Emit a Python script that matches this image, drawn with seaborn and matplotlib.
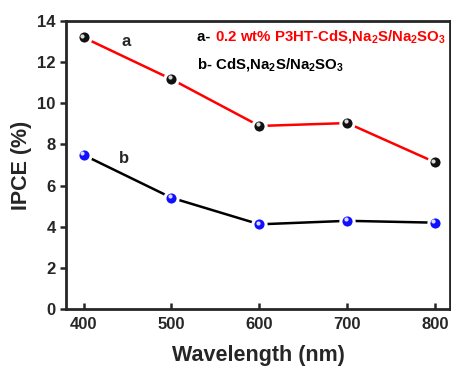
import matplotlib
matplotlib.use("Agg")
import matplotlib.pyplot as plt
import matplotlib.transforms as mtransforms
import seaborn as sns
import pandas as pd

wavelength = [400, 500, 600, 700, 800]
ipce_a = [13.2, 11.17, 8.9, 9.04, 7.13]
ipce_b = [7.49, 5.41, 4.12, 4.29, 4.2]
xticks = [400, 500, 600, 700, 800]
yticks = [0, 2, 4, 6, 8, 10, 12, 14]

sns.set_style("ticks")
plt.rcParams['font.family'] = ['Liberation Sans', 'DejaVu Sans']
plt.rcParams['font.weight'] = 'bold'
plt.rcParams['mathtext.fontset'] = 'custom'
plt.rcParams['mathtext.rm'] = 'Liberation Sans:bold'
plt.rcParams['mathtext.bf'] = 'Liberation Sans:bold'
plt.rcParams['mathtext.default'] = 'bf'

fig = plt.figure(figsize=(4.52, 3.68), dpi=100)
ax = fig.add_axes([0.146, 0.160, 0.850, 0.783])

df = pd.DataFrame({"wl": wavelength, "a": ipce_a, "b": ipce_b})

for col, lcolor, mcolor in [("a", "#ff0000", "#111111"), ("b", "#000000", "#1010ff")]:
    sns.lineplot(data=df, x="wl", y=col, ax=ax, color=lcolor, linewidth=1.8,
                 marker="o", markersize=9.5, markerfacecolor=mcolor,
                 markeredgecolor="white", markeredgewidth=2.2, zorder=3)
    hl = mtransforms.offset_copy(ax.transData, fig=fig, x=-1.3, y=1.3, units='points')
    ax.plot(df["wl"], df[col], linestyle="none", marker="o", markersize=3,
            markerfacecolor="white", markeredgecolor="none", alpha=0.85,
            transform=hl, zorder=4)

ax.set_xlim(380, 817)
ax.set_ylim(0, 14)
ax.set_xticks(xticks)
ax.set_yticks(yticks)
ax.tick_params(axis='x', direction='in', length=4, width=1.8, labelsize=12, pad=6)
ax.tick_params(axis='y', direction='out', length=4, width=1.8, labelsize=12)
for lab in ax.get_xticklabels() + ax.get_yticklabels():
    lab.set_fontweight('bold')
for s in ax.spines.values():
    s.set_linewidth(2.0)
    s.set_visible(True)

ax.set_xlabel("Wavelength (nm)", fontsize=15.5, fontweight='bold', labelpad=9)
ax.set_ylabel("IPCE (%)", fontsize=15.5, fontweight='bold', labelpad=4)

ax.text(448, 13.0, "a", fontsize=12, fontweight='bold', ha='center', va='center')
ax.text(446, 7.3, "b", fontsize=12, fontweight='bold', ha='center', va='center')

ax.text(0.34, 0.945, "a- ", transform=ax.transAxes, fontsize=10.8, fontweight='bold',
        ha='left', va='center', color='black')
ax.text(0.388, 0.945, r"0.2 wt% P3HT-CdS,Na$_2$S/Na$_2$SO$_3$", transform=ax.transAxes,
        fontsize=10.8, fontweight='bold', ha='left', va='center', color='#ff0000')
ax.text(0.34, 0.85, r"b- CdS,Na$_2$S/Na$_2$SO$_3$", transform=ax.transAxes,
        fontsize=10.8, fontweight='bold', ha='left', va='center', color='black')

fig.savefig("out.png", dpi=100)
